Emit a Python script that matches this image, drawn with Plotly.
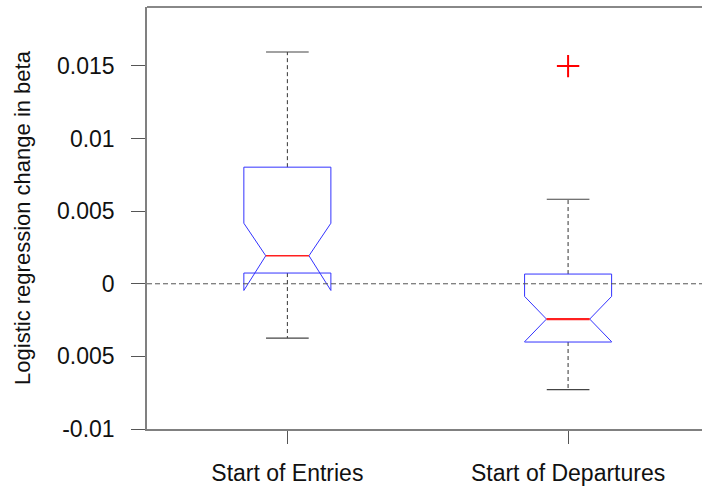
import plotly.graph_objects as go

# ---- data ----
categories = ["Start of Entries", "Start of Departures"]
positions = [1, 2]
q1 = [0.00074, -0.00401]
q3 = [0.00803, 0.00067]
medians = [0.00193, -0.00243]
notch_lo = [-0.00046, -0.00399]
notch_hi = [0.00417, -0.00087]
whisker_lo = [-0.00374, -0.00729]
whisker_hi = [0.01596, 0.00582]
outliers = [[], [0.01499]]

ytick_vals = [-0.01, -0.005, 0, 0.005, 0.01, 0.015]
ytick_text = ["-0.01", "0.005", "0", "0.005", "0.01", "0.015"]

# ---- style ----
BOX_HW = 0.155
NOTCH_HW = 0.077
CAP_HW = 0.076
FONT = "Liberation Sans, Arial, sans-serif"

fig = go.Figure()

for i, x in enumerate(positions):
    # whiskers (dashed)
    fig.add_trace(go.Scatter(
        x=[x, x, None, x, x],
        y=[q3[i], whisker_hi[i], None, q1[i], whisker_lo[i]],
        mode="lines", line=dict(color="#333333", width=1, dash="4px,3px"),
        hoverinfo="skip", showlegend=False))
    # caps
    fig.add_trace(go.Scatter(
        x=[x - CAP_HW, x + CAP_HW, None, x - CAP_HW, x + CAP_HW],
        y=[whisker_hi[i], whisker_hi[i], None, whisker_lo[i], whisker_lo[i]],
        mode="lines", line=dict(color="#444444", width=1.2),
        hoverinfo="skip", showlegend=False))
    # notched box outline
    bx = [x - BOX_HW, x + BOX_HW, x + BOX_HW, x + NOTCH_HW, x + BOX_HW, x + BOX_HW,
          x - BOX_HW, x - BOX_HW, x - NOTCH_HW, x - BOX_HW, x - BOX_HW]
    by = [q3[i], q3[i], notch_hi[i], medians[i], notch_lo[i], q1[i],
          q1[i], notch_lo[i], medians[i], notch_hi[i], q3[i]]
    fig.add_trace(go.Scatter(
        x=bx, y=by, mode="lines", line=dict(color="#3333ff", width=1),
        hoverinfo="skip", showlegend=False))
    # median
    fig.add_trace(go.Scatter(
        x=[x - NOTCH_HW, x + NOTCH_HW], y=[medians[i], medians[i]],
        mode="lines", line=dict(color="#ff2020", width=1.3 if i == 0 else 2.2),
        hoverinfo="skip", showlegend=False))
    # outliers
    if outliers[i]:
        fig.add_trace(go.Scatter(
            x=[x] * len(outliers[i]), y=outliers[i], mode="markers",
            marker=dict(symbol="cross-thin", size=16,
                        line=dict(color="red", width=2)),
            hoverinfo="skip", showlegend=False))

# zero reference line
fig.add_shape(type="line", xref="paper", x0=0, x1=1, yref="y", y0=0, y1=0,
              line=dict(color="#555555", width=1, dash="5px,3px"))
# top border
fig.add_shape(type="line", xref="paper", x0=0, x1=1, yref="paper", y0=1, y1=1,
              line=dict(color="#888888", width=2))

fig.update_layout(
    width=702, height=486,
    margin=dict(l=147, r=0, t=7, b=57),
    paper_bgcolor="white", plot_bgcolor="white",
    font=dict(family=FONT, size=23, color="#111111"),
    showlegend=False, hovermode=False,
    xaxis=dict(range=[0.5, 2.477], tickmode="array", tickvals=positions,
               ticktext=categories, showgrid=False, zeroline=False,
               showline=True, linecolor="#808080", linewidth=1.5,
               ticks="outside", ticklen=13, tickcolor="#555555",
               ticklabelstandoff=10),
    yaxis=dict(range=[-0.01, 0.01906], tickmode="array", tickvals=ytick_vals,
               ticktext=ytick_text, showgrid=False, zeroline=False,
               showline=True, linecolor="#808080", linewidth=1.5,
               ticks="outside", ticklen=14, tickcolor="#555555",
               ticklabelstandoff=12,
               title=dict(text="Logistic regression change in beta",
                          font=dict(size=22), standoff=20)),
)

fig.write_html("out.html")
